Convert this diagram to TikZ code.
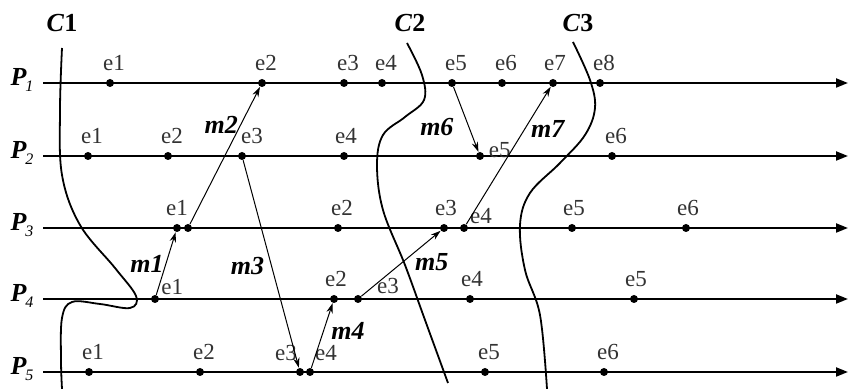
\documentclass[tikz,border=0pt]{standalone}
\usepackage{fontspec}
\setmainfont{Liberation Serif}
\usetikzlibrary{arrows.meta}
\tikzset{
  ev/.style={circle,fill=black,inner sep=0pt,minimum size=4pt},
  lab/.style={font=\fontsize{11.5}{11.5}\selectfont,text=black!80,inner sep=1pt},
  elab/.style={lab,yshift=2.5pt},
  plab/.style={font=\fontsize{13}{13}\selectfont\bfseries\itshape,inner sep=0pt},
  clab/.style={font=\fontsize{13}{13}\selectfont\bfseries,inner sep=0pt},
  mlab/.style={font=\fontsize{13}{13}\selectfont\bfseries\itshape,inner sep=1pt},
  proc/.style={line width=1pt,-{Triangle[length=6pt,width=4.5pt]}},
  msg/.style={line width=0.5pt,-{Stealth[length=5pt,width=3.2pt]}},
  cut/.style={line width=0.9pt},
}
\newcommand{\pname}[1]{P\kern-0.5pt\raisebox{-3pt}{\fontsize{8}{8}\selectfont\mdseries\itshape #1}}

\begin{document}
\begin{tikzpicture}[x=0.5pt,y=-0.5pt]
\useasboundingbox (0,0) rectangle (848,389);

% processes
\foreach \i/\y in {1/83,2/156,3/228,4/299,5/372}{
  \draw[proc] (43,\y) -- (848,\y);
  \node[plab] (P\i) at (22,\y-3) {\pname{\i}};
}

% events on P1
\node[ev,label={[elab,xshift=2pt]above:e1}] (p1e1) at (110,83) {};
\node[ev,label={[elab,xshift=2pt]above:e2}] (p1e2) at (262,83) {};
\node[ev,label={[elab,xshift=2pt]above:e3}] (p1e3) at (344,83) {};
\node[ev,label={[elab,xshift=2pt]above:e4}] (p1e4) at (382,83) {};
\node[ev,label={[elab,xshift=2pt]above:e5}] (p1e5) at (452,83) {};
\node[ev,label={[elab,xshift=2pt]above:e6}] (p1e6) at (502,83) {};
\node[ev,label={[elab,xshift=1pt]above:e7}] (p1e7) at (553,83) {};
\node[ev,label={[elab,xshift=2pt]above:e8}] (p1e8) at (600,83) {};

% events on P2
\node[ev,label={[elab,xshift=2pt]above:e1}] (p2e1) at (88,156) {};
\node[ev,label={[elab,xshift=2pt]above:e2}] (p2e2) at (168,156) {};
\node[ev,label={[elab,xshift=5pt]above:e3}] (p2e3) at (242,156) {};
\node[ev,label={[elab,xshift=1pt]above:e4}] (p2e4) at (344,156) {};
\node[ev,label={[lab,xshift=1pt,yshift=3pt]right:e5}] (p2e5) at (480,156) {};
\node[ev,label={[elab,xshift=2pt]above:e6}] (p2e6) at (612,156) {};

% events on P3
\node[ev,label={[elab]above:e1}] (p3e1) at (177,228) {};
\node[ev] (p3x) at (188,228) {};
\node[ev,label={[elab,xshift=2pt]above:e2}] (p3e2) at (338,228) {};
\node[ev,label={[elab,xshift=1pt]above:e3}] (p3e3) at (444,228) {};
\node[ev,label={[lab]30:e4}] (p3e4) at (464,228) {};
\node[ev,label={[elab,xshift=1pt]above:e5}] (p3e5) at (572,228) {};
\node[ev,label={[elab,xshift=1pt]above:e6}] (p3e6) at (686,228) {};

% events on P4
\node[ev,label={[lab]25:e1}] (p4e1) at (155,299) {};
\node[ev,label={[elab,xshift=1pt]above:e2}] (p4e2) at (334,299) {};
\node[ev,label={[lab,xshift=15pt,yshift=-1pt]above:e3}] (p4e3) at (358,299) {};
\node[ev,label={[elab,xshift=1pt]above:e4}] (p4e4) at (470,299) {};
\node[ev,label={[elab,xshift=1pt]above:e5}] (p4e5) at (634,299) {};

% events on P5
\node[ev,label={[elab,xshift=2pt]above:e1}] (p5e1) at (89,372) {};
\node[ev,label={[elab,xshift=2pt]above:e2}] (p5e2) at (200,372) {};
\node[ev,label={[lab,xshift=-7pt,yshift=2pt]above:e3}] (p5e3) at (300,372) {};
\node[ev,label={[lab,xshift=8pt,yshift=2pt]above:e4}] (p5e4) at (310,372) {};
\node[ev,label={[elab,xshift=2pt]above:e5}] (p5e5) at (485,372) {};
\node[ev,label={[elab,xshift=2pt]above:e6}] (p5e6) at (604,372) {};

% messages
\draw[msg] (p4e1) -- (p3e1) node[mlab,pos=0.5,left=0pt] {m1};
\draw[msg] (p3x) -- (p1e2) node[mlab,pos=0.72,left=0pt] {m2};
\draw[msg] (p2e3) -- (p5e3) node[mlab,pos=0.51,left=2.5pt] {m3};
\draw[msg] (p5e4) -- (p4e2) node[mlab,pos=0.57,right=2.7pt] {m4};
\draw[msg] (p4e3) -- (p3e3) node[mlab,pos=0.52,right=5pt] {m5};
\draw[msg] (p1e5) -- (p2e5) node[mlab,pos=0.62,left=6.5pt] {m6};
\draw[msg] (p3e4) -- (p1e7) node[mlab,pos=0.69,right=2pt] {m7};

% cuts
\node[clab] (c1) at (62,23) {\textit{C}1};
\node[clab] (c2) at (410,23) {\textit{C}2};
\node[clab] (c3) at (578,23) {\textit{C}3};
\draw[cut] plot[smooth,tension=0.6] coordinates {(62,48) (60,110) (62,175) (80,225) (115,268) (136,296) (130,308) (100,304) (72,302) (62,318) (61,360) (62,389)};
\draw[cut] plot[smooth,tension=0.6] coordinates {(407,43) (422,75) (424,100) (405,117) (383,135) (377,165) (383,210) (405,265) (425,320) (448,383)};
\draw[cut] plot[smooth,tension=0.6] coordinates {(573,42) (590,80) (595,108) (585,135) (560,163) (530,193) (520,225) (525,270) (540,315) (547,389)};
\end{tikzpicture}
\end{document}
